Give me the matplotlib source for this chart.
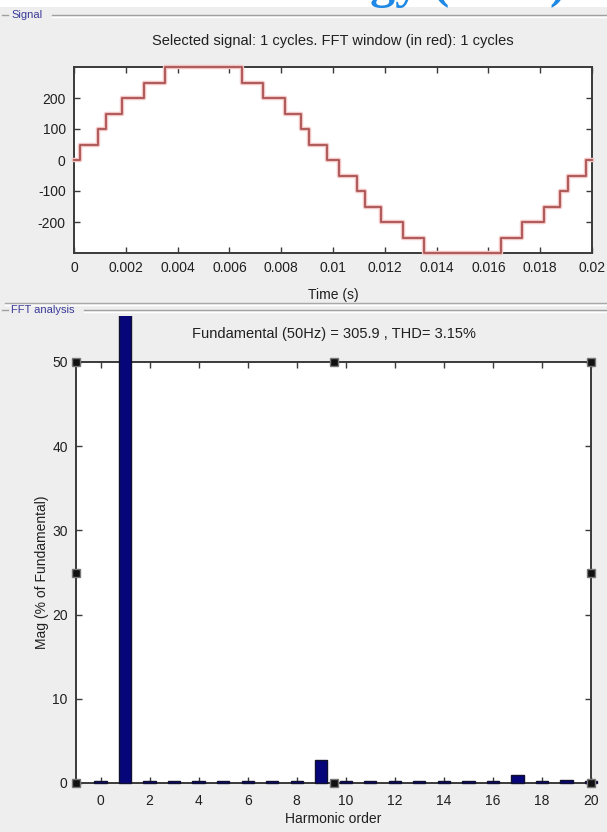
"""
multilevel inverter output: staircase signal and its FFT (powergui style)
"""

import matplotlib
matplotlib.use("Agg")
import matplotlib.pyplot as plt
from matplotlib.patches import Rectangle
from matplotlib.lines import Line2D

#staircase signal over one cycle, level changes (s) and levels (V)
sig_t = [0, 0.00022, 0.00092, 0.00125, 0.00186, 0.00272, 0.0035,
         0.0065, 0.00728, 0.00814, 0.00875, 0.00908, 0.00978,
         0.01022, 0.01092, 0.01125, 0.01186, 0.01272, 0.0135,
         0.0165, 0.01728, 0.01814, 0.01875, 0.01908, 0.01978]
sig_v = [0, 50, 100, 150, 200, 250, 300,
         250, 200, 150, 100, 50, 0,
         -50, -100, -150, -200, -250, -300,
         -250, -200, -150, -100, -50, 0]
t_end = 0.02

#harmonic spectrum, % of fundamental
harm_order = list(range(21))
harm_mag = [0.2, 100, 0.2, 0.25, 0.2, 0.25, 0.2, 0.25, 0.2, 2.7, 0.2,
            0.25, 0.2, 0.25, 0.2, 0.25, 0.2, 1.0, 0.2, 0.4, 0.2]

sig_xticks = [0, 0.002, 0.004, 0.006, 0.008, 0.01, 0.012, 0.014, 0.016, 0.018, 0.02]
sig_xlabels = ['0', '0.002', '0.004', '0.006', '0.008', '0.01', '0.012',
               '0.014', '0.016', '0.018', '0.02']
sig_yticks = [-200, -100, 0, 100, 200]
fft_xticks = [0, 2, 4, 6, 8, 10, 12, 14, 16, 18, 20]
fft_yticks = [0, 10, 20, 30, 40, 50]

sig_title = "Selected signal: 1 cycles. FFT window (in red): 1 cycles"
fft_title = "Fundamental (50Hz) = 305.9 , THD= 3.15%"

W, H = 607, 832
GUI = '#eeeeee'
PANEL = '#3b3b9a'


def fx(px):
    return px / W


def fy(py):
    return 1 - py / H


def panel_label(fig, text, ypx, x_end):
    fig.add_artist(Line2D([fx(2), fx(8)], [fy(ypx), fy(ypx)], color='#a0a0a0', lw=1))
    fig.text(fx(11), fy(ypx), text, fontsize=8, color=PANEL, va='center', ha='left')
    fig.add_artist(Line2D([fx(x_end), 1], [fy(ypx), fy(ypx)], color='#a0a0a0', lw=1))
    fig.add_artist(Line2D([fx(x_end), 1], [fy(ypx + 1.5), fy(ypx + 1.5)], color='white', lw=1))


def style_axes(ax):
    ax.set_facecolor('white')
    for s in ax.spines.values():
        s.set_color('#3a3a3a')
        s.set_linewidth(1.4)
    ax.tick_params(direction='in', length=4, width=1, color='#3a3a3a',
                   top=True, right=True, labelsize=10, labelcolor='#202020', pad=6)


def main():
    plt.rcParams['font.family'] = ['Liberation Sans Narrow', 'Liberation Sans', 'DejaVu Sans']
    plt.rcParams['axes.unicode_minus'] = False
    fig = plt.figure(figsize=(W / 100, H / 100), dpi=100, facecolor=GUI)

    #white page strip above the gui and cut-off heading
    fig.patches.append(Rectangle((0, fy(7)), 1, 7 / H, transform=fig.transFigure,
                                 facecolor='white', edgecolor='none', zorder=0))
    fig.text(fx(370), fy(-3), "gy (", fontsize=36, color='#1e88e5', va='baseline',
             family='Liberation Serif', weight='bold')
    fig.text(fx(549), fy(-3), ")", fontsize=36, color='#1e88e5', va='baseline',
             family='Liberation Serif', weight='bold')

    panel_label(fig, "Signal", 15, 52)
    fig.add_artist(Line2D([fx(5), 1], [fy(303), fy(303)], color='#a8a8a8', lw=1))
    fig.add_artist(Line2D([fx(5), 1], [fy(304.5), fy(304.5)], color='white', lw=1))
    panel_label(fig, "FFT analysis", 310, 84)

    #signal
    ax1 = fig.add_axes([fx(74), fy(253), fx(592) - fx(74), fy(67) - fy(253)])
    style_axes(ax1)
    ax1.step(sig_t + [t_end], sig_v + [sig_v[-1]], where='post',
             color='#f2c4c4', lw=3.2, clip_on=False, zorder=4)
    ax1.step(sig_t + [t_end], sig_v + [sig_v[-1]], where='post',
             color='#a85252', lw=1.3, clip_on=False, zorder=5)
    ax1.set_xlim(0, 0.02)
    ax1.set_ylim(-300, 300)
    ax1.set_xticks(sig_xticks)
    ax1.set_xticklabels(sig_xlabels)
    ax1.set_yticks(sig_yticks)
    ax1.set_title(sig_title, fontsize=10.5, color='#202020', pad=16)
    ax1.set_xlabel("Time (s)", fontsize=10, color='#202020', labelpad=9)

    #fft
    ax2 = fig.add_axes([fx(76), fy(783), fx(591) - fx(76), fy(362) - fy(783)])
    style_axes(ax2)
    ax2.tick_params(axis='x', pad=8)
    bars = ax2.bar(harm_order, harm_mag, width=0.5, color='#06067a',
                   edgecolor='#101030', linewidth=1.0, zorder=3)
    clip = Rectangle((0, 0), 1, fy(316), transform=fig.transFigure,
                     facecolor='none', edgecolor='none')
    for b in bars:
        b.set_clip_path(clip)
    ax2.set_xlim(-1, 20)
    ax2.set_ylim(0, 50)
    ax2.set_xticks(fft_xticks)
    ax2.set_yticks(fft_yticks)
    ax2.set_title(fft_title, fontsize=10.5, color='#202020', pad=17)
    ax2.set_xlabel("Harmonic order", fontsize=10, color='#202020', labelpad=3)
    ax2.set_ylabel("Mag (% of Fundamental)", fontsize=10, color='#202020', labelpad=2)

    #selection handles round the fft axes
    hx = [0, 0.5, 1, 0, 1, 0, 0.5, 1]
    hy = [0, 0, 0, 0.5, 0.5, 1, 1, 1]
    ax2.plot(hx, hy, 's', ms=5.5, mfc='#111111', mec='#777777', mew=1,
             transform=ax2.transAxes, clip_on=False, zorder=6)

    fig.savefig("out.png", dpi=100, facecolor=fig.get_facecolor())


if __name__ == "__main__":
    main()
